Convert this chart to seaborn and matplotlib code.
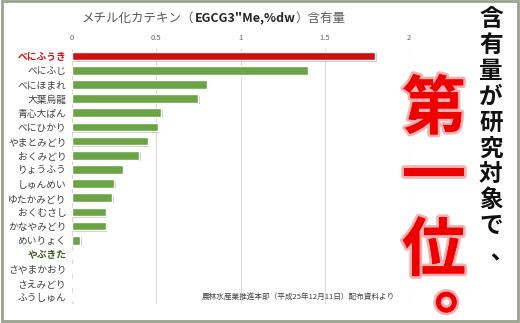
import matplotlib
matplotlib.use("Agg")
import matplotlib.pyplot as plt
import matplotlib.patheffects as pe
from matplotlib.patches import Rectangle
import seaborn as sns
import pandas as pd

categories = ["べにふうき", "べにふじ", "べにほまれ", "大葉烏龍", "青心大ぱん", "べにひかり",
              "やまとみどり", "おくみどり", "りょうふう", "しゅんめい", "ゆたかみどり", "おくむさし",
              "かなやみどり", "めいりょく", "やぶきた", "さやまかおり", "さえみどり", "ふうしゅん"]
values = [1.80, 1.40, 0.80, 0.75, 0.53, 0.51, 0.45, 0.40, 0.30, 0.25, 0.24, 0.20,
          0.20, 0.05, 0.0, 0.004, 0.004, 0.004]
xticks = [0, 0.5, 1, 1.5, 2]
xticklabels = ["0", "0.5", "1", "1.5", "2"]
title_parts = ["メチル化カテキン（", "EGCG3\"Me,%dw", "）含有量"]
note = "農林水産業推進本部（平成25年12月11日）配布資料より"
side_text = "含\n有\n量\nが\n研\n究\n対\n象\nで\n\u2002、"
big_text = ["第", "一", "位\n\u2002。"]

sns.set_theme(style="white")
plt.rcParams['font.family'] = ['Noto Sans CJK JP', 'DejaVu Sans']

red = "#d01010"
green = "#6aa445"
colors = [red] + [green] * (len(categories) - 1)

df = pd.DataFrame({"cat": categories, "val": values})

fig = plt.figure(figsize=(5.2, 3.23), dpi=100)
ax = fig.add_axes([72 / 520, 1 - 304 / 323, (409 - 72) / 520, (304 - 49) / 323])

sns.barplot(data=df, x="val", y="cat", hue="cat", palette=colors, legend=False,
            orient="h", width=0.6, ax=ax, saturation=1)
for p in ax.patches:
    p.set_path_effects([pe.SimplePatchShadow(offset=(1, -1), alpha=0.25), pe.Normal()])

ax.set_xlim(0, 2)
ax.set_xticks(xticks)
ax.set_xticklabels(xticklabels)
ax.xaxis.tick_top()
ax.tick_params(axis="x", length=0, labelsize=5.5, labelcolor="#666666", pad=5)
ax.tick_params(axis="y", length=0, labelsize=7, labelcolor="#404040", pad=4)
ax.set_xlabel("")
ax.set_ylabel("")
for s in ax.spines.values():
    s.set_visible(False)
ax.grid(axis="x", color="#d9d9d9", linewidth=0.8)
ax.set_axisbelow(True)

for lbl in ax.get_yticklabels():
    if lbl.get_text() == "べにふうき":
        lbl.set_color(red)
        lbl.set_fontweight("bold")
    elif lbl.get_text() == "やぶきた":
        lbl.set_color("#3a5a1a")
        lbl.set_fontweight("bold")

# title in three pieces (middle part darker / bolder)
fig.canvas.draw()
renderer = fig.canvas.get_renderer()
x0 = 82
ty = 1 - 18 / 323
styles = [("#595959", "normal"), ("#262626", "bold"), ("#595959", "normal")]
for part, (c, w) in zip(title_parts, styles):
    t = fig.text(x0 / 520, ty, part, ha="left", va="center", fontsize=9, color=c, fontweight=w)
    bb = t.get_window_extent(renderer)
    x0 = x0 + bb.width

fig.text(298 / 520, 1 - 297 / 323, note, ha="center", va="center", fontsize=5.5, color="#404040")

# vertical black text
fig.text(479 / 520, 1 - 7 / 323, side_text, ha="left", va="top", fontsize=17,
         fontweight="bold", color="#111111", linespacing=1.1, multialignment="left")

# big red text
glow = [pe.withStroke(linewidth=4, foreground="#f6b0b0"), pe.Normal()]
t = fig.text(434 / 520, 1 - 110 / 323, big_text[0], ha="center", va="center", fontsize=46,
             fontweight="bold", color="#ee0000")
t.set_path_effects(glow)
t = fig.text(434 / 520, 1 - 178 / 323, big_text[1], ha="center", va="center", fontsize=46,
             fontweight="bold", color="#ee0000")
t.set_path_effects(glow)
t = fig.text(402 / 520, 1 - 219 / 323, big_text[2], ha="left", va="top", fontsize=46,
             fontweight="bold", color="#ee0000", linespacing=0.45, multialignment="left")
t.set_path_effects(glow)

fig.patches.append(Rectangle((0.003, 0.006), 0.994, 0.99, transform=fig.transFigure,
                             fill=False, edgecolor="#9aa38e", linewidth=2))

fig.savefig("out.png", dpi=100)
